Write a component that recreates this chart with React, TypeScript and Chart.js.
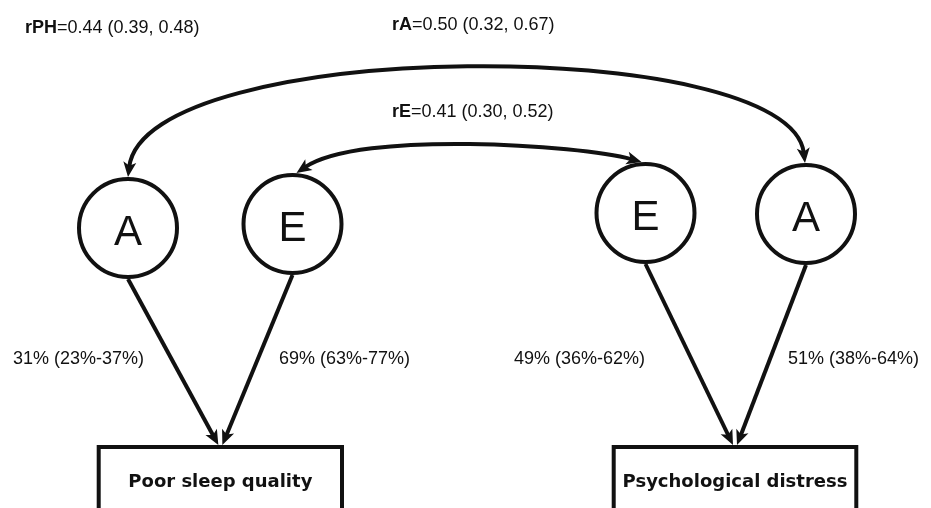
import React, { useEffect, useRef } from "react";
import { Chart, registerables } from "chart.js";

Chart.register(...registerables);

const W = 931;
const H = 508;

// ---- data ----
const latentNames = ["A", "E", "E", "A"];
const latentX = [128, 292.5, 645.5, 806];
const latentY = [228, 224, 213, 214];

const phenotypeNames = ["Poor sleep quality", "Psychological distress"];

const pathFrom = [0, 1, 2, 3];
const pathTo = [0, 0, 1, 1];
const pathEst = [31, 69, 49, 51];
const pathLo = [23, 63, 36, 38];
const pathHi = [37, 77, 62, 64];

const corrNames = ["rPH", "rA", "rE"];
const corrEst = [0.44, 0.5, 0.41];
const corrLo = [0.39, 0.32, 0.3];
const corrHi = [0.48, 0.67, 0.52];

// ---- layout (data-space coordinates, 1 unit = 1 px) ----
const LAYOUT = {
  radius: 49,
  boxLeft: [98.7, 613.7],
  boxRight: [342, 856.3],
  boxTop: 447,
  boxBottom: 540,
  boxTextY: 487,
  tipOffset: [-2, 2, -2, 2],
  pathLabelX: [13, 279, 514, 788],
  pathLabelY: 364,
  corrLabelX: [25, 392, 392],
  corrLabelY: [33, 30, 117],
  curves: [
    { from: 0, to: 3, c1: [145, 36], c2: [790, 34], d0: 0, d1: -1 },
    { from: 1, to: 2, c1: [360, 130], c2: [580, 145], d0: 4, d1: -4 },
  ],
};

const INK = "#111111";
const STROKE = 4;
const FONT = "'Liberation Sans', Arial, Helvetica, sans-serif";
const BOX_FONT = "'DejaVu Sans', Verdana, sans-serif";

function arrowHead(ctx: CanvasRenderingContext2D, tx: number, ty: number, fx: number, fy: number) {
  const L = 15;
  const HW = 6.5;
  let dx = tx - fx;
  let dy = ty - fy;
  const len = Math.hypot(dx, dy) || 1;
  dx /= len;
  dy /= len;
  const nx = -dy;
  const ny = dx;
  const bx = tx - dx * L;
  const by = ty - dy * L;
  const mx = tx - dx * L * 0.75;
  const my = ty - dy * L * 0.75;
  ctx.beginPath();
  ctx.moveTo(tx, ty);
  ctx.lineTo(bx + nx * HW, by + ny * HW);
  ctx.lineTo(mx, my);
  ctx.lineTo(bx - nx * HW, by - ny * HW);
  ctx.closePath();
  ctx.fillStyle = INK;
  ctx.fill();
}

const diagramPlugin = {
  id: "diagram",
  afterDatasetsDraw(chart: any) {
    const ctx: CanvasRenderingContext2D = chart.ctx;
    const xs = chart.scales.x;
    const ys = chart.scales.y;
    const px = (v: number) => xs.getPixelForValue(v);
    const py = (v: number) => ys.getPixelForValue(v);
    const R = LAYOUT.radius;
    ctx.save();
    ctx.strokeStyle = INK;
    ctx.fillStyle = INK;
    ctx.lineWidth = STROKE;
    ctx.lineCap = "butt";

    // letters in circles
    ctx.font = `42px ${FONT}`;
    ctx.textAlign = "center";
    ctx.textBaseline = "alphabetic";
    latentNames.forEach((n, i) => {
      ctx.fillText(n, px(latentX[i]), py(latentY[i]) + 16.5);
    });

    // boxes
    phenotypeNames.forEach((name, j) => {
      const l = px(LAYOUT.boxLeft[j]);
      const r = px(LAYOUT.boxRight[j]);
      const t = py(LAYOUT.boxTop);
      const b = py(LAYOUT.boxBottom);
      ctx.beginPath();
      ctx.moveTo(l, b);
      ctx.lineTo(l, t);
      ctx.lineTo(r, t);
      ctx.lineTo(r, b);
      ctx.stroke();
      ctx.font = `bold 18px ${BOX_FONT}`;
      ctx.textAlign = "center";
      ctx.fillText(name, (l + r) / 2, py(LAYOUT.boxTextY));
    });

    // paths
    pathFrom.forEach((li, i) => {
      const j = pathTo[i];
      const sx = px(latentX[li]);
      const sy = py(latentY[li] + R + 2);
      const cx = (px(LAYOUT.boxLeft[j]) + px(LAYOUT.boxRight[j])) / 2;
      const tx = cx + LAYOUT.tipOffset[i];
      const ty = py(LAYOUT.boxTop) - STROKE / 2;
      let dx = tx - sx;
      let dy = ty - sy;
      const len = Math.hypot(dx, dy);
      dx /= len;
      dy /= len;
      ctx.beginPath();
      ctx.moveTo(sx, sy);
      ctx.lineTo(tx - dx * 10, ty - dy * 10);
      ctx.stroke();
      arrowHead(ctx, tx, ty, sx, sy);
    });

    // curves
    LAYOUT.curves.forEach((c) => {
      const p0x = px(latentX[c.from] + c.d0);
      const p0y = py(latentY[c.from] - R - 2);
      const p3x = px(latentX[c.to] + c.d1);
      const p3y = py(latentY[c.to] - R - 2);
      const c1x = px(c.c1[0]);
      const c1y = py(c.c1[1]);
      const c2x = px(c.c2[0]);
      const c2y = py(c.c2[1]);
      const u0 = Math.hypot(c1x - p0x, c1y - p0y);
      const u1 = Math.hypot(c2x - p3x, c2y - p3y);
      const s0x = p0x + ((c1x - p0x) / u0) * 10;
      const s0y = p0y + ((c1y - p0y) / u0) * 10;
      const s3x = p3x + ((c2x - p3x) / u1) * 10;
      const s3y = p3y + ((c2y - p3y) / u1) * 10;
      ctx.beginPath();
      ctx.moveTo(s0x, s0y);
      ctx.bezierCurveTo(c1x, c1y, c2x, c2y, s3x, s3y);
      ctx.stroke();
      arrowHead(ctx, p0x, p0y, c1x, c1y);
      arrowHead(ctx, p3x, p3y, c2x, c2y);
    });

    // path labels
    ctx.textAlign = "left";
    ctx.font = `18px ${FONT}`;
    pathEst.forEach((e, i) => {
      ctx.fillText(
        `${e}% (${pathLo[i]}%-${pathHi[i]}%)`,
        px(LAYOUT.pathLabelX[i]),
        py(LAYOUT.pathLabelY)
      );
    });

    // correlation labels
    corrNames.forEach((n, i) => {
      const x = px(LAYOUT.corrLabelX[i]);
      const y = py(LAYOUT.corrLabelY[i]);
      ctx.font = `bold 18px ${FONT}`;
      ctx.fillText(n, x, y);
      const w = ctx.measureText(n).width;
      ctx.font = `18px ${FONT}`;
      ctx.fillText(
        `=${corrEst[i].toFixed(2)} (${corrLo[i].toFixed(2)}, ${corrHi[i].toFixed(2)})`,
        x + w,
        y
      );
    });

    ctx.restore();
  },
};

export default function App() {
  const ref = useRef<HTMLCanvasElement | null>(null);
  useEffect(() => {
    if (!ref.current) return;
    const chart = new Chart(ref.current, {
      type: "scatter",
      data: {
        datasets: [
          {
            label: "latent",
            data: latentX.map((x, i) => ({ x, y: latentY[i] })),
            pointRadius: LAYOUT.radius,
            pointHoverRadius: LAYOUT.radius,
            pointStyle: "circle",
            borderWidth: STROKE,
            borderColor: INK,
            backgroundColor: "#ffffff",
            clip: false,
          },
        ],
      },
      options: {
        animation: false,
        responsive: false,
        devicePixelRatio: 1,
        events: [],
        layout: { padding: 0, autoPadding: false },
        scales: {
          x: { type: "linear", min: 0, max: W, display: false },
          y: { type: "linear", min: 0, max: H, reverse: true, display: false },
        },
        plugins: {
          legend: { display: false },
          tooltip: { enabled: false },
        },
      },
      plugins: [diagramPlugin],
    } as any);
    return () => chart.destroy();
  }, []);
  return (
    <div style={{ position: "absolute", left: 0, top: 0, width: W, height: H, background: "#fff" }}>
      <canvas ref={ref} width={W} height={H} style={{ display: "block" }} />
    </div>
  );
}
